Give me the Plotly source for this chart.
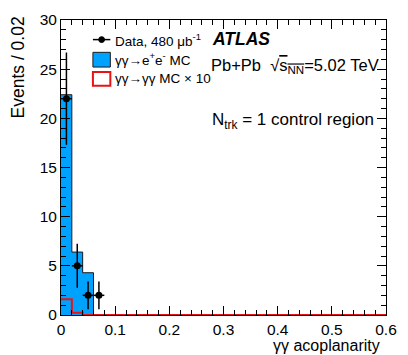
import numpy as np
import plotly.graph_objects as go

# ---- data ----
bin_width = 0.02
n_bins = 30
ee_mc = [22.4, 6.4, 4.3] + [0.0] * 27            # gamma gamma -> e+e- MC
gg_mc_x10 = [1.6, 0.23] + [0.0] * 28             # gamma gamma -> gamma gamma MC x 10
data_x = [0.01, 0.03, 0.05, 0.07]
data_y = [22, 5, 2, 2]

edges = [round(i * bin_width, 4) for i in range(n_bins + 1)]
data_err = [float(np.sqrt(v)) for v in data_y]

FONT = "Liberation Sans, Arial, Helvetica, sans-serif"
BLUE = "rgb(0,162,255)"

fig = go.Figure()

fig.add_trace(go.Scatter(
    x=edges, y=ee_mc + [ee_mc[-1]], mode="lines", line_shape="hv",
    fill="tozeroy", fillcolor=BLUE, line=dict(color="#1a1a1a", width=1),
    showlegend=False, hoverinfo="skip"))

fig.add_trace(go.Scatter(
    x=edges, y=gg_mc_x10 + [gg_mc_x10[-1]], mode="lines", line_shape="hv",
    line=dict(color="rgb(230,20,20)", width=2), showlegend=False, hoverinfo="skip"))

fig.add_trace(go.Scatter(
    x=data_x, y=data_y, mode="markers",
    marker=dict(color="black", size=7),
    error_y=dict(type="data", array=data_err, color="black", thickness=1.5, width=0),
    error_x=dict(type="constant", value=bin_width / 2, color="black", thickness=1.5, width=0),
    showlegend=False, cliponaxis=False))

# plot area in pixels: x 61..397, y 14..315
L, R, T, B = 61, 397, 14, 315
def px(x):
    return (x - L) / (R - L)
def py(y):
    return (B - y) / (B - T)

shapes = []
annotations = []

# legend: data
shapes.append(dict(type="line", xref="paper", yref="paper",
                   x0=px(94), x1=px(112), y0=py(34), y1=py(34),
                   line=dict(color="black", width=1.5)))
shapes.append(dict(type="circle", xref="paper", yref="paper",
                   x0=px(100), x1=px(106), y0=py(31), y1=py(37),
                   fillcolor="black", line=dict(color="black", width=1)))
# legend: blue box
shapes.append(dict(type="rect", xref="paper", yref="paper",
                   x0=px(94), x1=px(112), y0=py(47), y1=py(62),
                   fillcolor=BLUE, line=dict(color="#1a1a1a", width=1)))
# legend: red box
shapes.append(dict(type="rect", xref="paper", yref="paper",
                   x0=px(94), x1=px(112), y0=py(67), y1=py(81),
                   fillcolor="white", line=dict(color="rgb(230,20,20)", width=2)))

def ann(text, x, y, size, xanchor="left", **kw):
    annotations.append(dict(text=text, x=px(x), y=py(y), xref="paper", yref="paper",
                            xanchor=xanchor, yanchor="middle", showarrow=False,
                            font=dict(family=FONT, size=size, color="black"), **kw))

ann("Data, 480 μb<sup>-1</sup>", 115, 34, 13.5)
ann("γγ→e<sup>+</sup>e<sup>-</sup> MC", 115, 54, 13.5)
ann("γγ→γγ MC × 10", 115, 74, 13.5)
ann("<b><i>ATLAS</i></b>", 215, 33, 17.5)
ann("Pb+Pb  √<span style='text-decoration:overline'>s<sub>NN</sub></span>=5.02 TeV", 214, 61, 16.5)
ann("N<sub>trk</sub> = 1 control region", 215, 117, 17)

# axis titles
ann("γγ acoplanarity", 393, 346.5, 16, xanchor="right")
annotations.append(dict(text="Events / 0.02", x=px(17), y=py(62), xref="paper", yref="paper",
                        xanchor="center", yanchor="middle", showarrow=False, textangle=-90,
                        font=dict(family=FONT, size=17.5, color="black")))

axis_common = dict(showgrid=False, zeroline=False, showline=True, linecolor="black",
                   linewidth=1, mirror="allticks", ticks="inside", ticklen=9,
                   tickwidth=1, tickcolor="black",
                   tickfont=dict(family=FONT, size=15.5, color="black"))

fig.update_layout(
    width=408, height=355,
    margin=dict(l=L, r=408 - R, t=T, b=355 - B),
    paper_bgcolor="white", plot_bgcolor="white",
    xaxis=dict(range=[0, 0.6], dtick=0.1, tick0=0,
               minor=dict(dtick=0.02, ticks="inside", ticklen=5, tickcolor="black", showgrid=False),
               **axis_common),
    yaxis=dict(range=[0, 30], dtick=5, tick0=0,
               minor=dict(dtick=1, ticks="inside", ticklen=5, tickcolor="black", showgrid=False),
               **axis_common),
    shapes=shapes, annotations=annotations, showlegend=False,
)

fig.write_html("out.html", config={"displayModeBar": False},
               post_script="document.body.style.margin='0';document.body.style.overflow='hidden';")
